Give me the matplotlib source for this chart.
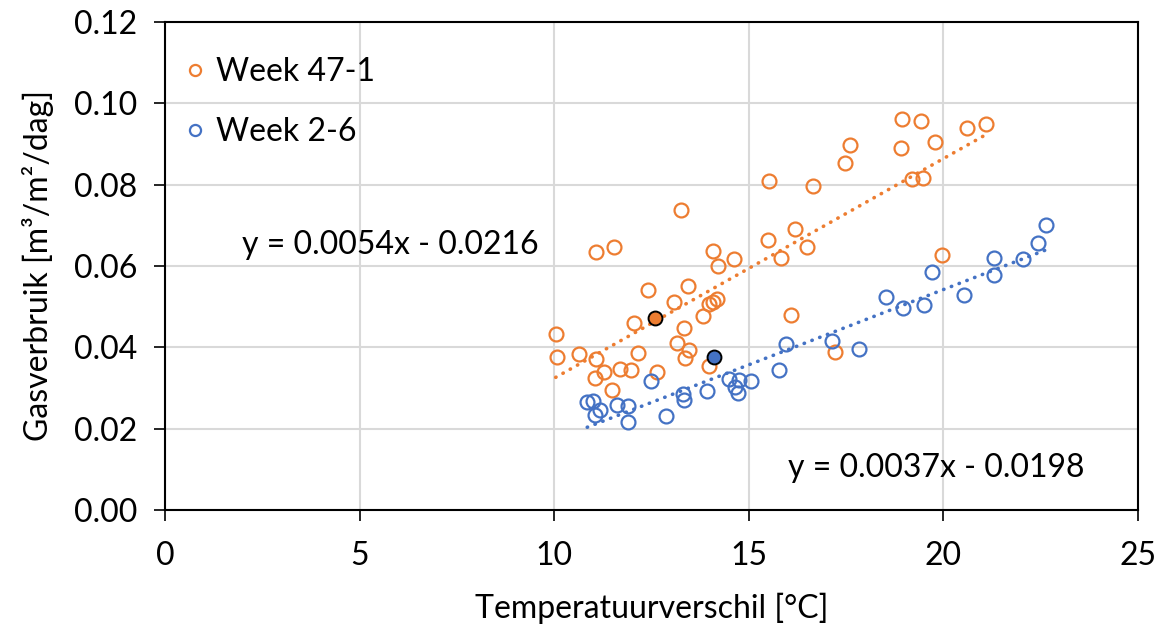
import matplotlib
matplotlib.use("Agg")
import matplotlib.pyplot as plt
import numpy as np

plt.rcParams['font.family'] = ['Lato', 'DejaVu Sans']

# Week 47-1 (orange)
x_w47 = [13.26, 11.07, 11.54, 14.08, 14.20, 14.62, 12.42, 13.44, 13.09, 13.99,
         14.09, 14.18, 13.82, 12.04, 13.34, 10.04, 13.16, 13.46, 13.35, 10.07,
         10.65, 11.08, 12.16, 13.99, 11.28, 11.68, 11.98, 12.64, 11.04, 11.49,
         18.93, 19.43, 20.62, 21.10, 17.61, 18.90, 19.78, 17.48, 19.19, 19.47,
         15.51, 16.64, 16.19, 15.49, 16.49, 15.82, 19.96, 16.09, 17.22]
y_w47 = [0.0738, 0.0634, 0.0647, 0.0637, 0.0600, 0.0618, 0.0540, 0.0551, 0.0511, 0.0507,
         0.0511, 0.0518, 0.0477, 0.0459, 0.0447, 0.0432, 0.0411, 0.0393, 0.0373, 0.0377,
         0.0383, 0.0371, 0.0387, 0.0354, 0.0340, 0.0346, 0.0344, 0.0340, 0.0325, 0.0296,
         0.0961, 0.0957, 0.0940, 0.0949, 0.0897, 0.0890, 0.0906, 0.0853, 0.0813, 0.0817,
         0.0808, 0.0796, 0.0690, 0.0665, 0.0647, 0.0620, 0.0627, 0.0479, 0.0388]

# Week 2-6 (blue)
x_w2 = [12.50, 14.48, 14.75, 15.07, 14.65, 14.73, 13.93, 13.31, 13.33, 10.85,
        11.01, 11.05, 11.19, 11.62, 11.90, 11.89, 12.87,
        22.65, 22.42, 21.30, 22.04, 21.30, 19.71, 18.52, 18.97, 19.49,
        20.54, 15.95, 17.13, 17.83, 15.77]
y_w2 = [0.0317, 0.0321, 0.0320, 0.0317, 0.0303, 0.0288, 0.0292, 0.0284, 0.0270, 0.0266,
        0.0268, 0.0234, 0.0246, 0.0257, 0.0256, 0.0216, 0.0231,
        0.0701, 0.0657, 0.0619, 0.0618, 0.0577, 0.0585, 0.0523, 0.0496, 0.0503,
        0.0528, 0.0409, 0.0415, 0.0395, 0.0343]

# mean points (filled)
mean_x = [12.60, 14.11]
mean_y = [0.0471, 0.0376]

# trend line coefficients (slope, intercept)
fit_w47 = [0.0054, -0.0216]
fit_w2 = [0.0037, -0.0198]

orange = '#ED7D31'
blue = '#4472C4'
fs = 23

fig = plt.figure(figsize=(11.6, 6.3), dpi=100)
ax = fig.add_axes([0.1422, 0.1905, 0.8388, 0.7746])

ax.plot(x_w47, y_w47, 'o', ms=10, mfc='none', mec=orange, mew=1.6,
        label='Week 47-1', zorder=3)
ax.plot(x_w2, y_w2, 'o', ms=10, mfc='none', mec=blue, mew=1.6,
        label='Week 2-6', zorder=3)

# trend lines
for xs, fit, col in [(x_w47, fit_w47, orange), (x_w2, fit_w2, blue)]:
    xl = np.array([min(xs), max(xs)])
    ax.plot(xl, fit[0] * xl + fit[1], color=col, lw=2.6,
            linestyle=(0, (0.1, 2.2)), dash_capstyle='round', zorder=2)

ax.plot(mean_x[0], mean_y[0], 'o', ms=10, mfc=orange, mec='black', mew=1.4, zorder=4)
ax.plot(mean_x[1], mean_y[1], 'o', ms=10, mfc=blue, mec='black', mew=1.4, zorder=4)

ax.text(1.98, 0.0652, 'y = 0.0054x - 0.0216', fontsize=fs, va='center', ha='left')
ax.text(16.0, 0.0103, 'y = 0.0037x - 0.0198', fontsize=fs, va='center', ha='left')

ax.set_xlim(0, 25)
ax.set_ylim(0, 0.12)
ax.set_xticks(np.arange(0, 26, 5))
ax.set_yticks(np.arange(0, 0.121, 0.02))
ax.yaxis.set_major_formatter(matplotlib.ticker.FormatStrFormatter('%.2f'))
ax.tick_params(labelsize=fs, length=8, width=1.2, direction='out')
ax.tick_params(axis='x', pad=14)
ax.tick_params(axis='y', pad=12)
ax.grid(True, color='#d9d9d9', lw=1.5)
ax.set_axisbelow(True)
for s in ax.spines.values():
    s.set_linewidth(1.5)
    s.set_color('black')

ax.set_xlabel('Temperatuurverschil [°C]', fontsize=fs, labelpad=16)
ax.set_ylabel('Gasverbruik [m³/m²/dag]', fontsize=fs, labelpad=14)

ax.legend(loc='upper left', fontsize=fs, frameon=False, handletextpad=0.1,
          handlelength=1.1, labelspacing=0.95, borderaxespad=0.0,
          markerscale=0.8, bbox_to_anchor=(0.0, 0.955))

fig.savefig('out.png', dpi=100)
